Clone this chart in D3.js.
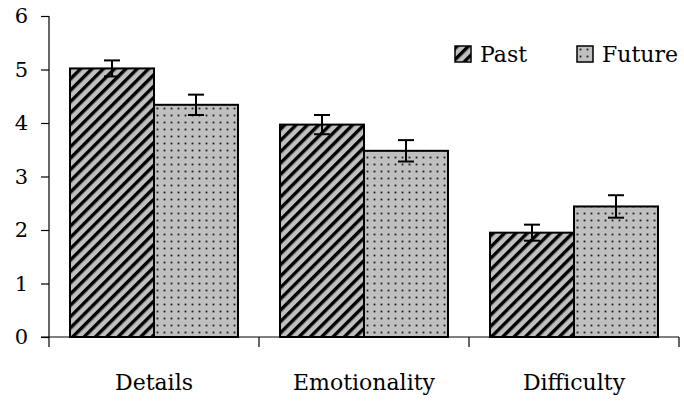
<!DOCTYPE html>
<html>
<head>
<meta charset="utf-8">
<script src="https://cdn.jsdelivr.net/npm/d3@7"></script>
<style>
  body { margin: 0; background: #fff; }
  svg text { font-family: "DejaVu Serif", serif; fill: #000; }
</style>
</head>
<body>
<div id="chart"></div>
<script>
const width = 684, height = 405;

const categories = ["Details", "Emotionality", "Difficulty"];
const series = ["Past", "Future"];
const pastValues = [5.02, 3.97, 1.95];
const futureValues = [4.34, 3.48, 2.44];
const pastErrors = [0.15, 0.18, 0.15];
const futureErrors = [0.19, 0.2, 0.21];
const yTicks = [0, 1, 2, 3, 4, 5, 6];

const data = categories.map((c, i) => [
  { cat: c, key: "Past", val: pastValues[i], err: pastErrors[i] },
  { cat: c, key: "Future", val: futureValues[i], err: futureErrors[i] }
]).flat();

const svg = d3.select("#chart").append("svg")
  .attr("width", width).attr("height", height);

// fill patterns: diagonal hatch and dots
const defs = svg.append("defs");
const hatch = defs.append("pattern")
  .attr("id", "hatch").attr("patternUnits", "userSpaceOnUse")
  .attr("width", 8).attr("height", 8)
  .attr("patternTransform", "rotate(45)");
hatch.append("rect").attr("width", 8).attr("height", 8).attr("fill", "#c0c0c0");
hatch.append("rect").attr("x", 0).attr("width", 3.4).attr("height", 8).attr("fill", "#000");

const dots = defs.append("pattern")
  .attr("id", "dots").attr("patternUnits", "userSpaceOnUse")
  .attr("width", 7).attr("height", 7);
dots.append("rect").attr("width", 7).attr("height", 7).attr("fill", "#c0c0c0");
dots.append("rect").attr("x", 2.6).attr("y", 2.6).attr("width", 1.8).attr("height", 1.8).attr("fill", "#1a1a1a");

const fills = { Past: "url(#hatch)", Future: "url(#dots)" };

const y = d3.scaleLinear().domain([0, 6]).range([337, 16]);
const x0 = d3.scaleBand().domain(categories).range([49, 679]).paddingInner(0.2).paddingOuter(0.1);
const x1 = d3.scaleBand().domain(series).range([0, x0.bandwidth()]);

// y axis
const yAxis = svg.append("g")
  .attr("transform", "translate(49,0)")
  .call(d3.axisLeft(y).tickValues(yTicks).tickFormat(d3.format("d"))
    .tickSize(8).tickPadding(13).tickSizeOuter(0));
yAxis.attr("font-family", null);
yAxis.select(".domain").remove();
yAxis.selectAll(".tick line").attr("stroke", "#000").attr("stroke-width", 1.2);
yAxis.selectAll(".tick text").attr("font-size", 21);
svg.append("line").attr("x1", 49).attr("x2", 49).attr("y1", y(6)).attr("y2", 347)
  .attr("stroke", "#000").attr("stroke-width", 1.2);

// x axis
svg.append("line").attr("x1", 41).attr("x2", 679).attr("y1", y(0)).attr("y2", y(0))
  .attr("stroke", "#000").attr("stroke-width", 1.2);
const step = x0.step();
svg.selectAll(".xtick")
  .data(d3.range(1, categories.length + 1))
  .join("line")
  .attr("x1", i => x0.range()[0] + i * step)
  .attr("x2", i => x0.range()[0] + i * step)
  .attr("y1", y(0)).attr("y2", y(0) + 10)
  .attr("stroke", "#000").attr("stroke-width", 1.2);

svg.selectAll(".cat")
  .data(categories)
  .join("text")
  .attr("x", d => x0(d) + x0.bandwidth() / 2)
  .attr("y", 390)
  .attr("text-anchor", "middle")
  .attr("font-size", 22)
  .text(d => d);

// bars
svg.selectAll(".bar")
  .data(data)
  .join("rect")
  .attr("x", d => x0(d.cat) + x1(d.key))
  .attr("y", d => y(d.val))
  .attr("width", x1.bandwidth())
  .attr("height", d => y(0) - y(d.val))
  .attr("fill", d => fills[d.key])
  .attr("stroke", "#000").attr("stroke-width", 2);

// error bars
const eb = svg.selectAll(".err").data(data).join("g")
  .attr("transform", d => `translate(${x0(d.cat) + x1(d.key) + x1.bandwidth() / 2},0)`);
eb.append("line")
  .attr("y1", d => y(d.val + d.err)).attr("y2", d => y(d.val - d.err))
  .attr("stroke", "#000").attr("stroke-width", 2);
eb.append("line").attr("x1", -8).attr("x2", 8)
  .attr("y1", d => y(d.val + d.err)).attr("y2", d => y(d.val + d.err))
  .attr("stroke", "#000").attr("stroke-width", 2);
eb.append("line").attr("x1", -8).attr("x2", 8)
  .attr("y1", d => y(d.val - d.err)).attr("y2", d => y(d.val - d.err))
  .attr("stroke", "#000").attr("stroke-width", 2);

// legend
const legendX = [455, 577];
const legend = svg.selectAll(".leg").data(series).join("g")
  .attr("transform", (d, i) => `translate(${legendX[i]},46)`);
legend.append("rect").attr("width", 16).attr("height", 16)
  .attr("fill", d => fills[d]).attr("stroke", "#000").attr("stroke-width", 1.5);
legend.append("text").attr("x", 25).attr("y", 16)
  .attr("font-size", 22).text(d => d);
</script>
</body>
</html>
